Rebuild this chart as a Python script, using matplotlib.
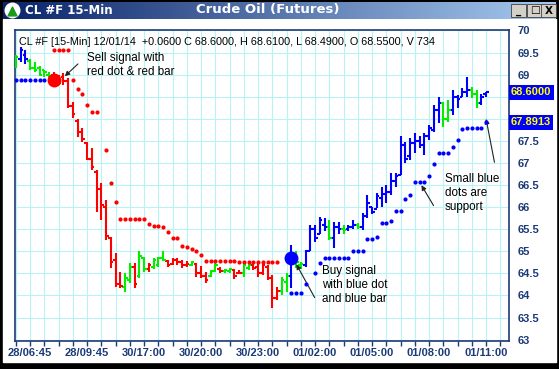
import numpy as np
import matplotlib
matplotlib.use("Agg")
import matplotlib.pyplot as plt
from matplotlib.patches import Rectangle
from matplotlib.colors import LinearSegmentedColormap
from matplotlib.ticker import FixedLocator, NullFormatter

plt.rcParams["font.family"] = ["Liberation Sans", "DejaVu Sans"]

# ── Data (15-min bars, index = bar number) ───────────────────────────────────
highs = [69.45, 69.63, 69.55, 69.35, 69.28, 69.2, 69.1, 69.05, 69.05, 69.0,
         69.03, 68.92, 68.39, 68.0, 67.79, 67.47, 67.34, 66.84, 66.55, 66.16,
         65.33, 64.96, 64.54, 64.51, 64.73, 64.73, 65.0, 64.88, 64.73, 64.84,
         64.88, 65.0, 64.81, 64.86, 64.85, 64.81, 64.78, 64.78, 64.73, 64.66,
         64.54, 64.57, 64.73, 64.65, 64.6, 64.62, 64.6, 64.57, 64.72, 64.72,
         64.73, 64.74, 64.73, 64.69, 64.46, 64.2, 64.43, 64.5, 65.14, 65.0,
         64.76, 65.03, 65.6, 65.6, 65.78, 65.75, 65.7, 65.67, 65.67, 65.6,
         65.6, 65.7, 65.65, 65.87, 66.27, 66.0, 66.32, 66.46, 66.5, 66.77,
         66.77, 67.6, 67.48, 67.56, 67.67, 67.6, 67.67, 67.86, 68.31, 68.5,
         68.39, 68.42, 68.65, 68.54, 68.69, 68.95, 68.72, 68.65, 68.57, 68.61]
lows = [69.15, 69.28, 69.25, 69.1, 69.05, 68.98, 68.95, 68.92, 68.8, 68.76,
        68.76, 68.24, 68.02, 67.59, 67.47, 67.06, 66.84, 65.9, 65.7, 65.25,
        64.62, 64.19, 64.17, 64.08, 64.28, 64.17, 64.4, 64.54, 64.54, 64.6,
        64.65, 64.77, 64.65, 64.7, 64.69, 64.62, 64.65, 64.67, 64.43, 64.4,
        64.28, 64.43, 64.54, 64.5, 64.5, 64.52, 64.37, 64.5, 64.43, 64.57,
        64.57, 64.43, 64.47, 64.35, 63.72, 63.9, 64.01, 64.08, 64.17, 64.62,
        64.6, 64.65, 65.0, 65.22, 65.4, 65.45, 65.25, 65.07, 65.4, 65.4,
        65.45, 65.5, 65.5, 65.48, 65.75, 65.85, 65.98, 66.0, 66.1, 66.27,
        66.46, 66.72, 67.0, 67.07, 67.22, 67.33, 67.18, 67.52, 67.7, 67.9,
        67.82, 67.93, 68.08, 68.24, 68.5, 68.5, 68.46, 68.24, 68.31, 68.49]
opens = [69.2, 69.35, 69.45, 69.3, 69.15, 69.15, 69.1, 69.0, 69.0, 68.95,
         68.95, 68.85, 68.3, 67.95, 67.7, 67.45, 67.1, 66.8, 66.4, 66.0,
         65.3, 64.8, 64.25, 64.2, 64.35, 64.65, 64.45, 64.85, 64.6, 64.65,
         64.7, 64.85, 64.78, 64.72, 64.8, 64.75, 64.7, 64.7, 64.72, 64.5,
         64.45, 64.45, 64.55, 64.6, 64.55, 64.55, 64.58, 64.5, 64.5, 64.62,
         64.7, 64.65, 64.5, 64.65, 64.4, 63.95, 64.1, 64.3, 64.45, 64.85,
         64.7, 64.7, 65.0, 65.5, 65.4, 65.6, 65.55, 65.3, 65.55, 65.5,
         65.5, 65.55, 65.6, 65.55, 65.8, 66.0, 65.95, 66.2, 66.3, 66.35,
         66.6, 66.72, 67.4, 67.15, 67.45, 67.5, 67.4, 67.6, 67.75, 68.2,
         68.35, 68.0, 68.2, 68.5, 68.5, 68.6, 68.65, 68.55, 68.35, 68.55]
closes = [69.4, 69.55, 69.35, 69.15, 69.1, 69.0, 69.05, 68.95, 68.85, 68.8,
          68.85, 68.3, 68.1, 67.7, 67.55, 67.1, 66.9, 66.4, 66.05, 65.35,
          64.75, 64.25, 64.22, 64.4, 64.65, 64.25, 64.9, 64.6, 64.7, 64.8,
          64.85, 64.8, 64.7, 64.8, 64.75, 64.7, 64.72, 64.75, 64.5, 64.45,
          64.35, 64.55, 64.7, 64.55, 64.58, 64.6, 64.45, 64.52, 64.7, 64.7,
          64.62, 64.5, 64.7, 64.4, 63.95, 64.1, 64.35, 64.45, 64.9, 64.75,
          64.72, 65.0, 65.5, 65.3, 65.7, 65.55, 65.3, 65.55, 65.5, 65.48,
          65.55, 65.6, 65.55, 65.8, 66.1, 65.9, 66.25, 66.3, 66.35, 66.6,
          66.7, 67.4, 67.1, 67.45, 67.5, 67.4, 67.6, 67.8, 68.2, 68.35,
          68.0, 68.2, 68.5, 68.45, 68.6, 68.65, 68.55, 68.35, 68.5, 68.6]
# trend state of each bar: b = up, r = down, g = neutral
trend = list("gbbgggggrrrrrrrrrrrrrrrggrggrgggrrrrrgrrrggrggrrggrrrrrrggbggbbbbbgbbgbbgbb"
             "bbbbbbbbbbbbbbbggbbbbggbb")

red_dot_idx = [8, 9, 10, 11, 12, 13, 14, 15, 16, 17, 19, 20, 21, 22, 23, 24, 25, 26,
               27, 28, 29, 30, 31, 32, 33, 34, 35, 36, 37, 38, 39, 40, 41, 42, 43,
               44, 45, 46, 47, 48, 49, 50, 51, 52, 53, 54, 55]
red_dot_val = [69.55, 69.55, 69.55, 69.55, 68.87, 68.67, 68.57, 68.31, 68.16, 68.16,
               67.3, 66.55, 66.12, 65.73, 65.73, 65.73, 65.73, 65.73, 65.73, 65.62,
               65.58, 65.57, 65.55, 65.44, 65.31, 65.31, 65.13, 65.1, 65.05, 65.0,
               64.92, 64.78, 64.78, 64.78, 64.78, 64.78, 64.78, 64.78, 64.75, 64.75,
               64.75, 64.75, 64.75, 64.75, 64.75, 64.75, 64.75]
blue_dot_idx = [0, 1, 2, 3, 4, 5, 6, 58, 59, 60, 61, 63, 64, 65, 66, 67, 68, 69, 70,
                71, 72, 73, 74, 75, 76, 77, 78, 79, 80, 81, 82, 83, 84, 85, 86, 87,
                88, 89, 90, 91, 92, 93, 94, 95, 96, 97, 98, 99]
blue_dot_val = [68.87, 68.87, 68.87, 68.87, 68.87, 68.87, 68.87, 64.06, 64.06, 64.06,
                64.26, 64.52, 64.74, 64.84, 64.84, 64.84, 64.84, 64.84, 64.84,
                65.0, 65.0, 65.0, 65.29, 65.29, 65.33, 65.63, 65.63, 65.69, 65.92,
                65.92, 66.18, 66.28, 66.57, 66.57, 66.57, 66.7, 66.97, 67.23, 67.23,
                67.23, 67.37, 67.52, 67.76, 67.8, 67.8, 67.8, 67.8, 67.92]
sell_signal = (8, 68.87)
buy_signal = (58, 64.85)

tick_idx = [3, 15, 27, 39, 51, 63, 75, 87, 99]
tick_labels = ["28/06:45", "28/09:45", "30/17:00", "30/20:00", "30/23:00",
               "01/02:00", "01/05:00", "01/08:00", "01/11:00"]
y_levels = [63, 63.5, 64, 64.5, 65, 65.5, 66, 66.5, 67, 67.5, 68, 68.5, 69, 69.5, 70]
y_labels = ["63", "63.5", "64", "64.5", "65", "65.5", "66", "66.5", "67", "67.5",
            "", "", "69", "69.5", "70"]

header = ("CL #F [15-Min] 12/01/14  +0.0600 C 68.6000, H 68.6100, "
          "L 68.4900, O 68.5500, V 734")

# ── Figure / window chrome ───────────────────────────────────────────────────
W, H = 559, 369
fig = plt.figure(figsize=(W / 100, H / 100), dpi=100, facecolor="black")

def fx(px):
    return px / W

def fy(py):
    return 1 - py / H

# white client area (behind the axes)
fig.patches.append(Rectangle((fx(3), fy(362)), fx(553), (362 - 19) / H,
                             transform=fig.transFigure, color="white", zorder=-5))
# title bar gradient
tb = fig.add_axes([fx(3), fy(19), fx(553), 17 / H])
grad = np.linspace(0, 1, 256).reshape(1, -1)
tb.imshow(grad, aspect="auto", extent=[0, 1, 0, 1],
          cmap=LinearSegmentedColormap.from_list("tb", ["#0a246a", "#a6caf0"]))
tb.set_xlim(0, 1)
tb.set_ylim(0, 1)
tb.axis("off")
tb.scatter([0.0165], [0.5], marker="o", s=110, color="white", zorder=3)
tb.scatter([0.0165], [0.45], marker="^", s=40, color="#1a9a1a", zorder=4)
fig.text(fx(25), fy(10), "CL #F 15-Min", color="white", fontsize=8.5,
         fontweight="bold", family="DejaVu Sans", va="center", ha="left")
fig.text(fx(268), fy(10), "Crude Oil (Futures)", color="white", fontsize=9.5,
         fontweight="bold", family="DejaVu Sans", va="center", ha="center")
for bx, sym in [(511, "_"), (527, "□"), (541, "X")]:
    fig.patches.append(Rectangle((fx(bx), fy(17)), fx(15), 13 / H,
                                 transform=fig.transFigure, fc="#d4d0c8",
                                 ec="#404040", lw=0.6, zorder=3))
    fig.text(fx(bx + 7.5), fy(10.5), sym, fontsize=7.5, fontweight="bold",
             family="DejaVu Sans", ha="center", va="center", zorder=4)

# ── Chart ────────────────────────────────────────────────────────────────────
ax = fig.add_axes([fx(15), fy(341), fx(494), (341 - 30) / H])
ax.set_facecolor("white")
ax.set_xlim(-0.16, 103.84)
ax.set_ylim(62.97, 70.01)

for s in ax.spines.values():
    s.set_color("#1c3a78")
    s.set_linewidth(1.2)

ax.xaxis.set_major_locator(FixedLocator(tick_idx))
ax.xaxis.set_minor_locator(FixedLocator(list(range(0, 104, 3))))
ax.set_xticklabels(tick_labels)
ax.xaxis.set_minor_formatter(NullFormatter())
ax.tick_params(axis="x", which="both", direction="out", length=3.5, width=1,
               color="#1c3a78", labelsize=8, labelcolor="#1c3a78", pad=1.5)
for t in ax.get_xticklabels():
    t.set_fontweight("bold")

ax.yaxis.tick_right()
ax.yaxis.set_major_locator(FixedLocator(y_levels))
ax.set_yticklabels(y_labels)
ax.tick_params(axis="y", length=0, labelsize=8, labelcolor="#1c3a78", pad=6)
for t in ax.get_yticklabels():
    t.set_fontweight("bold")

ax.grid(True, which="minor", axis="x", color="#b8f4f4", lw=0.8)
ax.grid(True, which="major", axis="x", color="#b8f4f4", lw=0.8)
ax.grid(True, which="major", axis="y", color="#b8f4f4", lw=0.8)
ax.set_axisbelow(True)

colmap = {"b": "#0000ff", "r": "#ff0000", "g": "#00ee00"}
idx = np.arange(len(highs))
bar_cols = [colmap[t] for t in trend]
ax.vlines(idx, lows, highs, colors=bar_cols, lw=1.5, zorder=3)
ax.hlines(opens, idx - 0.55, idx, colors=bar_cols, lw=1.5, zorder=3)
ax.hlines(closes, idx, idx + 0.55, colors=bar_cols, lw=1.5, zorder=3)

ax.plot(red_dot_idx, red_dot_val, "o", color="#ff0000", ms=3.0, mew=0, zorder=4)
ax.plot(blue_dot_idx, blue_dot_val, "o", color="#0000ff", ms=3.0, mew=0, zorder=4)
ax.plot(*sell_signal, "o", color="#ff0000", ms=10, mew=0, zorder=5)
ax.plot(*buy_signal, "o", color="#0000ff", ms=10, mew=0, zorder=5)

# last close / last support boxes on the price scale
ax.text(1.004, closes[-1], f"{closes[-1]:.4f}", transform=ax.get_yaxis_transform(),
        ha="left", va="center", fontsize=8, fontweight="bold", color="#ffff00",
        bbox=dict(boxstyle="square,pad=0.2", fc="#0000ff", ec="none"), zorder=6,
        clip_on=False)
ax.text(1.004, blue_dot_val[-1], "67.8913", transform=ax.get_yaxis_transform(),
        ha="left", va="center", fontsize=8, fontweight="bold", color="#ffff00",
        bbox=dict(boxstyle="square,pad=0.2", fc="#0000ff", ec="none"), zorder=6,
        clip_on=False)

fig.text(fx(19), fy(45), header, fontsize=7.8, color="black", ha="left",
         va="baseline")

# ── Annotations ──────────────────────────────────────────────────────────────
akw = dict(arrowstyle="-|>", color="#222222", lw=0.8, mutation_scale=7)
fig.text(fx(87), fy(52), "Sell signal with\nred dot & red bar", fontsize=8.4,
         ha="left", va="top", linespacing=1.2)
ax.annotate("", xy=(9.9, 68.92), xytext=(fx(80), fy(62)),
            textcoords="figure fraction", arrowprops=akw)

fig.text(fx(322), fy(265), "Buy signal\nwith blue dot\nand blue bar", fontsize=8.4,
         ha="left", va="top", linespacing=1.2)
ax.annotate("", xy=(58.8, 64.76), xytext=(fx(316), fy(300)),
            textcoords="figure fraction", arrowprops=akw)

fig.text(fx(445), fy(173), "Small blue\ndots are\nsupport", fontsize=8.4,
         ha="left", va="top", linespacing=1.2)
ax.annotate("", xy=(85.1, 66.55), xytext=(fx(435), fy(208)),
            textcoords="figure fraction", arrowprops=akw)
ax.annotate("", xy=(98.9, 68.06), xytext=(fx(495), fy(165)),
            textcoords="figure fraction", arrowprops=akw)

fig.savefig("out.png", dpi=100, facecolor="black")
